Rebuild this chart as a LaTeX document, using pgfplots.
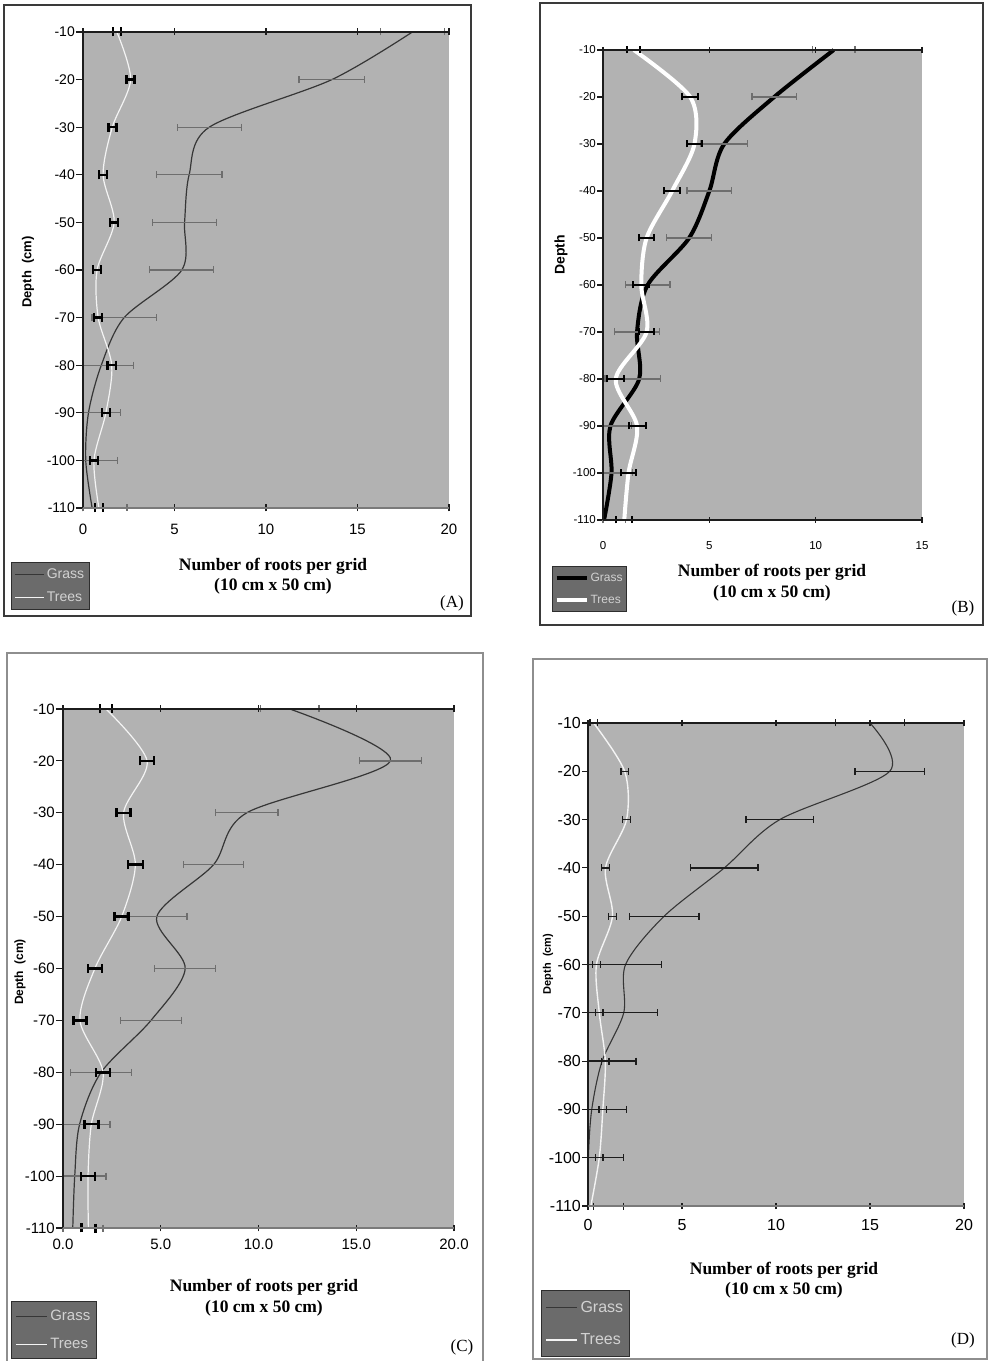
\documentclass[border=0pt]{standalone}
\usepackage{fontspec}
\setmainfont{Liberation Serif}
\setsansfont{Liberation Sans}
\newfontfamily\arial{Liberation Sans}
\usepackage{pgfplots}
\pgfplotsset{compat=1.18}
\definecolor{plotgray}{HTML}{B2B2B2}
\definecolor{leggray}{HTML}{6B6B6B}
\definecolor{legtext}{HTML}{D2D2D2}
\definecolor{legborder}{HTML}{2E2E2E}
\definecolor{errgray}{HTML}{6E6E6E}
\definecolor{frameA}{HTML}{3A3A3A}
\definecolor{frameC}{HTML}{8E8E8E}
\definecolor{darkline}{HTML}{1C1C1C}
\definecolor{lowline}{HTML}{7A7A7A}
\definecolor{grassline}{HTML}{363636}
\definecolor{treesline}{HTML}{F4F4F4}

\pgfplotsset{
  panel/.style={
    scale only axis, clip=false,
    axis background/.style={fill=plotgray},
    axis line style={draw=none},
    ymin=-110, ymax=-10,
    ytick={-110,-100,-90,-80,-70,-60,-50,-40,-30,-20,-10},
    yticklabels={-110,-100,-90,-80,-70,-60,-50,-40,-30,-20,-10},
    ytick pos=left, xtick pos=both, xticklabel pos=lower,
    xtick align=center, ytick align=outside,
    major tick length=7pt,
    tick style={darkline, line width=1.2pt},
    legend cell align=left,
  },
  errs/.style n args={3}{error bars/.cd, x dir=both, x explicit, error mark=|,
     error bar style={#1, line width=#2},
     error mark options={#1, line width=#2, mark size=#3}},
}

\begin{document}
\begin{tikzpicture}[x=1pt,y=1pt]
\fill[white] (0,0) rectangle (991,1361);
\path[use as bounding box] (0,0) rectangle (991,1361);

% frames
\draw[frameA, line width=1.5pt] (4,1356) rectangle (471,745);
\draw[frameA, line width=1.5pt] (540,1358) rectangle (983,736);
\draw[frameC, line width=1.5pt] (7,708) rectangle (483,-10);
\draw[frameC, line width=1.5pt] (533,702) rectangle (987,2);

% ---------------- Panel A ----------------
\begin{axis}[panel, at={(83pt,853pt)}, anchor=south west, width=366pt, height=476pt,
  xmin=0, xmax=20, xtick={0,5,10,15,20}, xticklabels={0,5,10,15,20},
  yticklabel style={font=\fontsize{14}{14}\selectfont\arial, inner sep=1pt},
  xticklabel style={font=\fontsize{15}{15}\selectfont\arial, inner sep=0pt, yshift=-12pt},
  legend style={at={(-0.1967,-0.1134)}, anchor=north west, fill=leggray, draw=legborder,
    line width=1.2pt, inner xsep=3pt, inner ysep=0.5pt, row sep=0pt,
    font=\fontsize{14}{14}\selectfont\arial, text=legtext,
    nodes={inner xsep=2pt, inner ysep=0pt, minimum height=23pt}},
  legend image code/.code={\draw[#1] (0pt,0pt) -- (29pt,0pt);},
]
\addplot[grassline, line width=1.2pt, smooth, errs={errgray}{1.3pt}{3.5pt}] coordinates {
 (18.0,-10) +- (1.75,0)
 (13.6,-20) +- (1.8,0)
 (6.9,-30) +- (1.75,0)
 (5.8,-40) +- (1.8,0)
 (5.55,-50) +- (1.75,0)
 (5.4,-60) +- (1.75,0)
 (2.25,-70) +- (1.75,0)
 (1.0,-80) += (1.75,0) -= (1.0,0)
 (0.3,-90) += (1.75,0) -= (0.3,0)
 (0.15,-100) += (1.75,0) -= (0.15,0)
 (0.5,-110) += (1.9,0) -= (0.5,0)
};
\addlegendentry{Grass}
\addplot[treesline, line width=1.2pt, smooth, errs={black}{2.5pt}{4.5pt}] coordinates {
 (1.85,-10) +- (0.22,0)
 (2.6,-20) +- (0.22,0)
 (1.6,-30) +- (0.22,0)
 (1.1,-40) +- (0.22,0)
 (1.7,-50) +- (0.22,0)
 (0.77,-60) +- (0.22,0)
 (0.83,-70) +- (0.22,0)
 (1.57,-80) +- (0.22,0)
 (1.25,-90) +- (0.22,0)
 (0.6,-100) +- (0.22,0)
 (0.87,-110) +- (0.22,0)
};
\addlegendentry{Trees}
\draw[darkline, line width=1.8pt] (axis cs:0,-110) -- (axis cs:0,-10) -- (axis cs:20,-10);
\draw[lowline, line width=1.5pt] (axis cs:0,-110) -- (axis cs:20,-110);
\end{axis}

% ---------------- Panel B ----------------
\begin{axis}[panel, at={(603pt,841pt)}, anchor=south west, width=319pt, height=470pt,
  xmin=0, xmax=15, xtick={0,5,10,15}, xticklabels={0,5,10,15},
  yticklabel style={font=\fontsize{11.5}{11.5}\selectfont\arial, inner sep=1pt},
  xticklabel style={font=\fontsize{11.5}{11.5}\selectfont\arial, inner sep=0pt, yshift=-18pt},
  major tick length=6pt,
  legend style={at={(-0.160,-0.0979)}, anchor=north west, fill=leggray, draw=legborder,
    line width=1.2pt, inner xsep=2pt, inner ysep=0.5pt, row sep=0pt,
    font=\fontsize{12}{12}\selectfont\arial, text=legtext,
    nodes={inner xsep=2pt, inner ysep=0pt, minimum height=22pt}},
  legend image code/.code={\draw[#1] (0pt,0pt) -- (30pt,0pt);},
]
\addplot[black, line width=4pt, smooth, errs={errgray}{1.3pt}{3.5pt}] coordinates {
 (10.85,-10) +- (1.0,0)
 (8.05,-20) +- (1.05,0)
 (5.7,-30) +- (1.1,0)
 (5.0,-40) +- (1.05,0)
 (4.05,-50) +- (1.05,0)
 (2.1,-60) +- (1.05,0)
 (1.6,-70) +- (1.05,0)
 (1.7,-80) += (1.0,0) -= (1.6,0)
 (0.35,-90) += (1.0,0) -= (0.35,0)
 (0.4,-100) += (1.0,0) -= (0.4,0)
 (0.05,-110) += (1.0,0) -= (0.05,0)
};
\addlegendentry{Grass}
\addplot[white, line width=4pt, smooth, errs={black}{2pt}{3.5pt}] coordinates {
 (1.45,-10) +- (0.3,0)
 (4.1,-20) +- (0.38,0)
 (4.3,-30) +- (0.35,0)
 (3.25,-40) +- (0.37,0)
 (2.05,-50) +- (0.37,0)
 (1.8,-60) +- (0.37,0)
 (2.05,-70) +- (0.37,0)
 (0.6,-80) +- (0.4,0)
 (1.6,-90) +- (0.4,0)
 (1.2,-100) +- (0.37,0)
 (1.0,-110) +- (0.37,0)
};
\addlegendentry{Trees}
\draw[darkline, line width=2pt] (axis cs:0,-110) -- (axis cs:0,-10) -- (axis cs:15,-10);
\draw[darkline, line width=2pt] (axis cs:0,-110) -- (axis cs:15,-110);
\end{axis}

% ---------------- Panel C ----------------
\begin{axis}[panel, at={(63pt,133pt)}, anchor=south west, width=391pt, height=519pt,
  xmin=0, xmax=20, xtick={0,5,10,15,20}, xticklabels={0.0,5.0,10.0,15.0,20.0},
  yticklabel style={font=\fontsize{15}{15}\selectfont\arial, inner sep=1pt},
  xticklabel style={font=\fontsize{15}{15}\selectfont\arial, inner sep=0pt, yshift=-7pt},
  legend style={at={(-0.133,-0.1407)}, anchor=north west, fill=leggray, draw=legborder,
    line width=1.2pt, inner xsep=4pt, inner ysep=0.5pt, row sep=0pt,
    font=\fontsize{15}{15}\selectfont\arial, text=legtext,
    nodes={inner xsep=2.5pt, inner ysep=0pt, minimum height=28pt}},
  legend image code/.code={\draw[#1] (0pt,0pt) -- (31pt,0pt);},
]
\addplot[grassline, line width=1.2pt, smooth, errs={errgray}{1.3pt}{3.5pt}] coordinates {
 (11.6,-10) +- (1.5,0)
 (16.75,-20) +- (1.6,0)
 (9.4,-30) +- (1.6,0)
 (7.7,-40) +- (1.55,0)
 (4.8,-50) +- (1.55,0)
 (6.25,-60) +- (1.56,0)
 (4.5,-70) +- (1.55,0)
 (1.95,-80) +- (1.55,0)
 (0.85,-90) += (1.55,0) -= (0.85,0)
 (0.6,-100) += (1.6,0) -= (0.6,0)
 (0.5,-110) += (1.55,0) -= (0.5,0)
};
\addlegendentry{Grass}
\addplot[treesline, line width=1.2pt, smooth, errs={black}{2.5pt}{4.5pt}] coordinates {
 (2.2,-10) +- (0.3,0)
 (4.3,-20) +- (0.36,0)
 (3.1,-30) +- (0.36,0)
 (3.7,-40) +- (0.38,0)
 (3.0,-50) +- (0.36,0)
 (1.63,-60) +- (0.36,0)
 (0.87,-70) +- (0.33,0)
 (2.05,-80) +- (0.36,0)
 (1.45,-90) +- (0.36,0)
 (1.28,-100) +- (0.36,0)
 (1.3,-110) +- (0.36,0)
};
\addlegendentry{Trees}
\draw[darkline, line width=2pt] (axis cs:0,-110) -- (axis cs:0,-10) -- (axis cs:20,-10);
\draw[lowline, line width=1.5pt] (axis cs:0,-110) -- (axis cs:20,-110);
\end{axis}

% ---------------- Panel D ----------------
\begin{axis}[panel, at={(588pt,155pt)}, anchor=south west, width=376pt, height=483pt,
  xmin=0, xmax=20, xtick={0,5,10,15,20}, xticklabels={0,5,10,15,20},
  major tick length=6pt,
  yticklabel style={font=\fontsize{16}{16}\selectfont\arial, inner sep=1pt},
  xticklabel style={font=\fontsize{16}{16}\selectfont\arial, inner sep=0pt, yshift=-10pt},
  legend style={at={(-0.125,-0.1739)}, anchor=north west, fill=leggray, draw=legborder,
    line width=1.2pt, inner xsep=4pt, inner ysep=0.5pt, row sep=0pt,
    font=\fontsize{16}{16}\selectfont\arial, text=legtext,
    nodes={inner xsep=2.5pt, inner ysep=0pt, minimum height=32.5pt}},
  legend image code/.code={\draw[#1] (0pt,0pt) -- (31pt,0pt);},
]
\addplot[grassline, line width=1.1pt, smooth, errs={darkline}{1.3pt}{3.5pt}] coordinates {
 (15.0,-10) +- (1.85,0)
 (16.05,-20) +- (1.85,0)
 (10.2,-30) +- (1.8,0)
 (7.25,-40) +- (1.8,0)
 (4.05,-50) +- (1.85,0)
 (2.0,-60) += (1.9,0) -= (2.0,0)
 (1.9,-70) += (1.8,0) -= (1.9,0)
 (0.75,-80) += (1.8,0) -= (0.75,0)
 (0.2,-90) += (1.85,0) -= (0.2,0)
 (0.02,-100) += (1.85,0) -= (0.02,0)
 (0.02,-110) += (1.85,0) -= (0.02,0)
};
\addlegendentry{Grass}
\addplot[treesline, line width=1.4pt, smooth, errs={darkline}{1.3pt}{3.5pt}] coordinates {
 (0.3,-10) +- (0.2,0)
 (1.95,-20) +- (0.2,0)
 (2.05,-30) +- (0.2,0)
 (0.93,-40) +- (0.2,0)
 (1.3,-50) +- (0.2,0)
 (0.45,-60) +- (0.2,0)
 (0.6,-70) +- (0.2,0)
 (0.92,-80) +- (0.2,0)
 (0.79,-90) +- (0.2,0)
 (0.6,-100) +- (0.2,0)
 (0.15,-110) +- (0.15,0)
};
\addlegendentry{Trees}
\draw[darkline, line width=1.8pt] (axis cs:0,-110) -- (axis cs:0,-10) -- (axis cs:20,-10);
\draw[lowline, line width=1.5pt] (axis cs:0,-110) -- (axis cs:20,-110);
\end{axis}

% ---------- axis titles and panel labels ----------
\begin{scope}[every node/.style={align=center, font=\fontsize{17.5}{20.5}\selectfont\bfseries}]
\node at (273,785) {Number of roots per grid\\(10 cm x 50 cm)};
\node at (772,778.5) {Number of roots per grid\\(10 cm x 50 cm)};
\node at (264,63.5) {Number of roots per grid\\(10 cm x 50 cm)};
\node at (784,81) {Number of roots per grid\\(10 cm x 50 cm)};
\end{scope}
\node[rotate=90, font=\fontsize{13}{13}\selectfont\arial\bfseries] at (28,1089) {Depth\ \ (cm)};
\node[rotate=90, font=\fontsize{14}{14}\selectfont\arial\bfseries] at (561,1106) {Depth};
\node[rotate=90, font=\fontsize{12}{12}\selectfont\arial\bfseries] at (20,389) {Depth\ \ (cm)};
\node[rotate=90, font=\fontsize{11}{11}\selectfont\arial\bfseries] at (548,397) {Depth\ \ (cm)};
\begin{scope}[every node/.style={font=\fontsize{17}{17}\selectfont}]
\node at (452,758) {(A)};
\node at (963,753) {(B)};
\node at (462,14) {(C)};
\node at (963,21) {(D)};
\end{scope}
\end{tikzpicture}
\end{document}
